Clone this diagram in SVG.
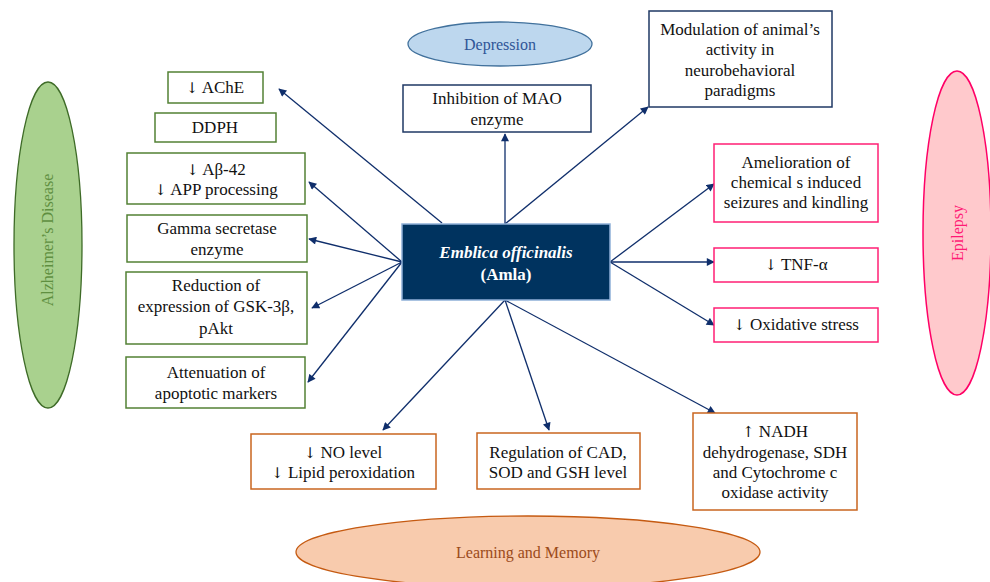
<svg xmlns="http://www.w3.org/2000/svg" width="990" height="582" viewBox="0 0 990 582">
<style>
text{font-family:"Liberation Serif","Times New Roman","DejaVu Serif",serif;font-size:17px;fill:#111;text-anchor:middle}
.a{font-family:"DejaVu Serif",serif;font-size:15px;fill:#111}
.g{fill:#fff;stroke:#538135;stroke-width:1.5}
.b{fill:#fff;stroke:#1f3864;stroke-width:1.5}
.p{fill:#fff;stroke:#ff1f74;stroke-width:1.5}
.o{fill:#fff;stroke:#c9651f;stroke-width:1.5}
.c line{stroke:#0f2e6b;stroke-width:1.3;marker-end:url(#ah)}
text.el{font-size:16px}
</style>
<defs>
<marker id="ah" viewBox="0 0 10 10" refX="9" refY="5" markerWidth="9" markerHeight="8" markerUnits="userSpaceOnUse" orient="auto">
<path d="M0,0 L10,5 L0,10 z" fill="#0f2e6b"/>
</marker>
</defs>
<g id="alzheimers">
<ellipse cx="48" cy="245" rx="34" ry="163" fill="#a9d18e" stroke="#3e6b27" stroke-width="1.3"/>
<text class="el" transform="translate(53,240) rotate(-90)" style="fill:#5f8f40">Alzheimer’s Disease</text>
</g>
<g id="depression">
<ellipse cx="500" cy="44" rx="92" ry="22" fill="#bdd7ee" stroke="#41719c" stroke-width="1.3"/>
<text class="el" x="500" y="50" style="fill:#2f5597">Depression</text>
</g>
<g id="epilepsy">
<ellipse cx="957" cy="233" rx="34" ry="162" fill="#ffc9cc" stroke="#ff0066" stroke-width="1.5"/>
<text class="el" transform="translate(963,233) rotate(-90)" style="fill:#ff1a75">Epilepsy</text>
</g>
<g id="learning">
<ellipse cx="528" cy="552" rx="232" ry="36" fill="#f8cbad" stroke="#c55a11" stroke-width="1.3"/>
<text class="el" x="528" y="558" style="fill:#9b4a1a">Learning and Memory</text>
</g>
<g class="c" id="connectors">
<line x1="442" y1="223" x2="279" y2="89"/>
<line x1="402" y1="262" x2="309" y2="182"/>
<line x1="402" y1="262" x2="309" y2="239"/>
<line x1="402" y1="262" x2="312" y2="308"/>
<line x1="402" y1="262" x2="308" y2="382"/>
<line x1="505" y1="224" x2="505" y2="134"/>
<line x1="505" y1="224" x2="648" y2="107"/>
<line x1="610" y1="262" x2="714" y2="184"/>
<line x1="610" y1="262" x2="714" y2="262"/>
<line x1="610" y1="262" x2="714" y2="325"/>
<line x1="505" y1="300" x2="383" y2="430"/>
<line x1="505" y1="300" x2="549" y2="430"/>
<line x1="505" y1="300" x2="715" y2="413"/>
</g>
<g id="center">
<rect x="402" y="224" width="208" height="76" fill="#00335f" stroke="#8fb0d8" stroke-width="1.5"/>
<text x="506" y="258" style="fill:#fff;font-weight:bold;font-style:italic">Emblica officinalis</text>
<text x="506" y="280" style="fill:#fff;font-weight:bold">(Amla)</text>
</g>
<g id="ache">
<rect class="g" x="168" y="72" width="95" height="31"/>
<text x="215" y="93"><tspan class="a">↓</tspan> AChE</text>
</g>
<g id="ddph">
<rect class="g" x="155" y="113" width="121" height="29"/>
<text x="215" y="133">DDPH</text>
</g>
<g id="abeta">
<rect class="g" x="127" y="153" width="178" height="51"/>
<text x="216" y="175"><tspan class="a">↓</tspan> Aβ-42</text>
<text x="216" y="195"><tspan class="a">↓</tspan> APP processing</text>
</g>
<g id="gamma">
<rect class="g" x="127" y="215" width="180" height="47"/>
<text x="217" y="234">Gamma secretase</text>
<text x="217" y="255">enzyme</text>
</g>
<g id="gsk">
<rect class="g" x="126" y="272" width="181" height="72"/>
<text x="216" y="291">Reduction of</text>
<text x="216" y="312">expression of GSK-3β,</text>
<text x="216" y="334">pAkt</text>
</g>
<g id="apoptotic">
<rect class="g" x="126" y="357" width="179" height="51"/>
<text x="216" y="378">Attenuation of</text>
<text x="216" y="399">apoptotic markers</text>
</g>
<g id="mao">
<rect class="b" x="403" y="85" width="188" height="47"/>
<text x="497" y="104">Inhibition of MAO</text>
<text x="497" y="125">enzyme</text>
</g>
<g id="modulation">
<rect class="b" x="649" y="11" width="183" height="96"/>
<text x="740" y="35">Modulation of animal’s</text>
<text x="740" y="55">activity in</text>
<text x="740" y="76">neurobehavioral</text>
<text x="740" y="96">paradigms</text>
</g>
<g id="seizures">
<rect class="p" x="714" y="144" width="164" height="78"/>
<text x="796" y="168">Amelioration of</text>
<text x="796" y="188">chemical s induced</text>
<text x="796" y="208">seizures and kindling</text>
</g>
<g id="tnf">
<rect class="p" x="714" y="248" width="164" height="34"/>
<text x="796" y="270"><tspan class="a">↓</tspan> TNF-α</text>
</g>
<g id="oxidative">
<rect class="p" x="714" y="308" width="164" height="34"/>
<text x="796" y="330"><tspan class="a">↓</tspan> Oxidative stress</text>
</g>
<g id="no">
<rect class="o" x="251" y="434" width="185" height="55"/>
<text x="343" y="458"><tspan class="a">↓</tspan> NO level</text>
<text x="343" y="478"><tspan class="a">↓</tspan> Lipid peroxidation</text>
</g>
<g id="regulation">
<rect class="o" x="477" y="433" width="163" height="56"/>
<text x="558" y="458">Regulation of CAD,</text>
<text x="558" y="478">SOD and GSH level</text>
</g>
<g id="nadh">
<rect class="o" x="693" y="413" width="164" height="97"/>
<text x="775" y="437"><tspan class="a">↑</tspan> NADH</text>
<text x="775" y="458">dehydrogenase, SDH</text>
<text x="775" y="478">and Cytochrome c</text>
<text x="775" y="498">oxidase activity</text>
</g>
</svg>
